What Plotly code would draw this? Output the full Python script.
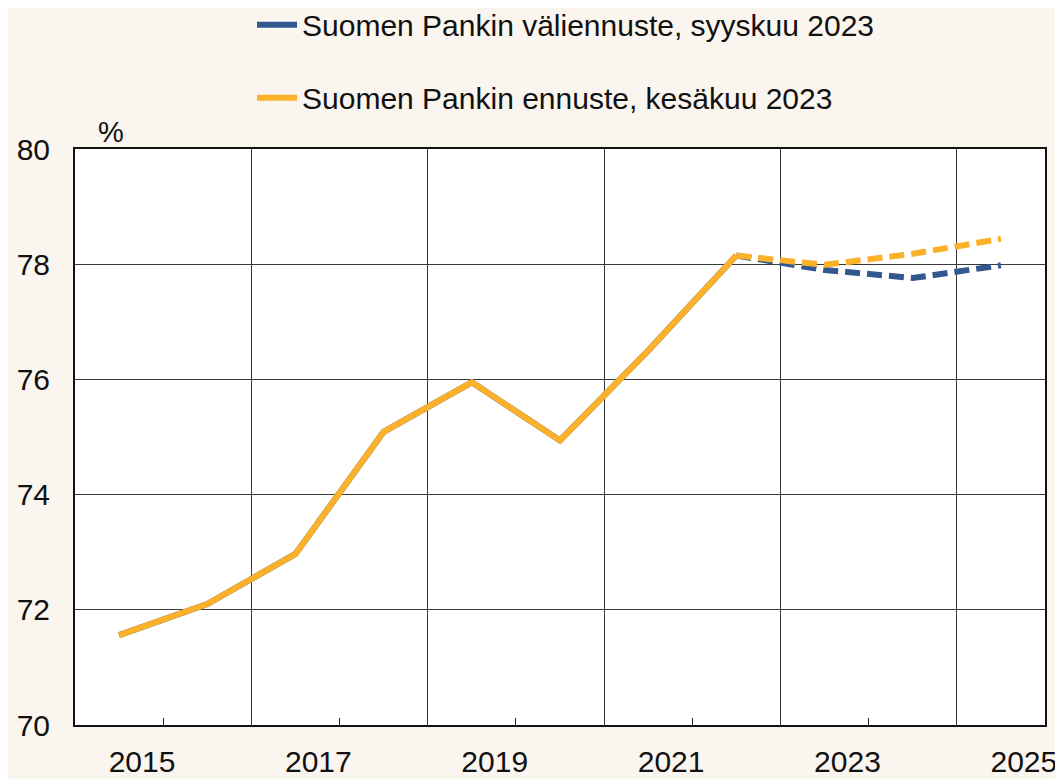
import plotly.graph_objects as go

# ---- data ----
history_years = [2015, 2016, 2017, 2018, 2019, 2020, 2021, 2022]
history_values = [71.56, 72.10, 72.97, 75.09, 75.95, 74.94, 76.50, 78.15]

forecast_years = [2022, 2023, 2024, 2025]
sept_forecast = [78.15, 77.90, 77.76, 77.98]   # Suomen Pankin väliennuste, syyskuu 2023
june_forecast = [78.15, 77.99, 78.18, 78.44]   # Suomen Pankin ennuste, kesäkuu 2023

label_years = [2015, 2017, 2019, 2021, 2023, 2025]
label_text = [str(y) for y in label_years]
y_ticks = [70, 72, 74, 76, 78, 80]

sept_name = "Suomen Pankin väliennuste, syyskuu 2023"
june_name = "Suomen Pankin ennuste, kesäkuu 2023"

BLUE = "#33588F"
ORANGE = "#FCB12A"
BG = "#FAF5EE"
GRID = "#3a3a3a"
FONT = "Liberation Sans, Arial, sans-serif"

fig = go.Figure()

# history (blue under orange)
fig.add_trace(go.Scatter(x=history_years, y=history_values, mode="lines",
                         name=sept_name, legendgroup="a",
                         line=dict(color=BLUE, width=6)))
fig.add_trace(go.Scatter(x=forecast_years, y=sept_forecast, mode="lines",
                         name=sept_name, legendgroup="a", showlegend=False,
                         line=dict(color=BLUE, width=6, dash="15px,7px")))
fig.add_trace(go.Scatter(x=history_years, y=history_values, mode="lines",
                         name=june_name, legendgroup="b",
                         line=dict(color=ORANGE, width=6)))
fig.add_trace(go.Scatter(x=forecast_years, y=june_forecast, mode="lines",
                         name=june_name, legendgroup="b", showlegend=False,
                         line=dict(color=ORANGE, width=6, dash="15px,7px")))

# category boundaries: gridline at the left edge of each labelled pair of years
grid_pos = [y - 0.5 for y in label_years]
minor_pos = [y + 0.5 for y in label_years[:-1]]

fig.update_xaxes(
    range=[2014.5, 2025.5], automargin=False,
    tickmode="array", tickvals=grid_pos, ticktext=label_text,
    ticks="", showgrid=True, gridcolor=GRID, gridwidth=1,
    ticklabelshift=67, ticklabelstandoff=9,
    minor=dict(tickmode="array", tickvals=minor_pos, ticks="inside",
               ticklen=7, tickcolor="#222", tickwidth=1, showgrid=False),
    showline=True, linecolor="#111", linewidth=2, mirror=True,
    tickfont=dict(family=FONT, size=30, color="#111"),
    zeroline=False, fixedrange=True,
)
fig.update_yaxes(
    range=[70, 80], automargin=False, tickmode="array", tickvals=y_ticks,
    ticks="", showgrid=True, gridcolor=GRID, gridwidth=1,
    ticklabelstandoff=17,
    showline=True, linecolor="#111", linewidth=2, mirror=True,
    tickfont=dict(family=FONT, size=30, color="#111"),
    zeroline=False, fixedrange=True,
)

fig.add_annotation(text="%", xref="paper", yref="paper", x=0.037, y=1.03,
                   showarrow=False, xanchor="center", yanchor="middle",
                   font=dict(family=FONT, size=29, color="#111"))

fig.update_layout(
    width=1055, height=771,
    margin=dict(l=67, r=18, t=141, b=54, autoexpand=False),
    paper_bgcolor=BG, plot_bgcolor="white",
    showlegend=True,
    legend=dict(xref="paper", x=0.1825, yref="paper", y=1.261,
                xanchor="left", yanchor="top",
                orientation="v", bgcolor="rgba(0,0,0,0)", borderwidth=0,
                tracegroupgap=31, itemwidth=40,
                font=dict(family=FONT, size=30, color="#111")),
)

fig.write_html("out.html")
